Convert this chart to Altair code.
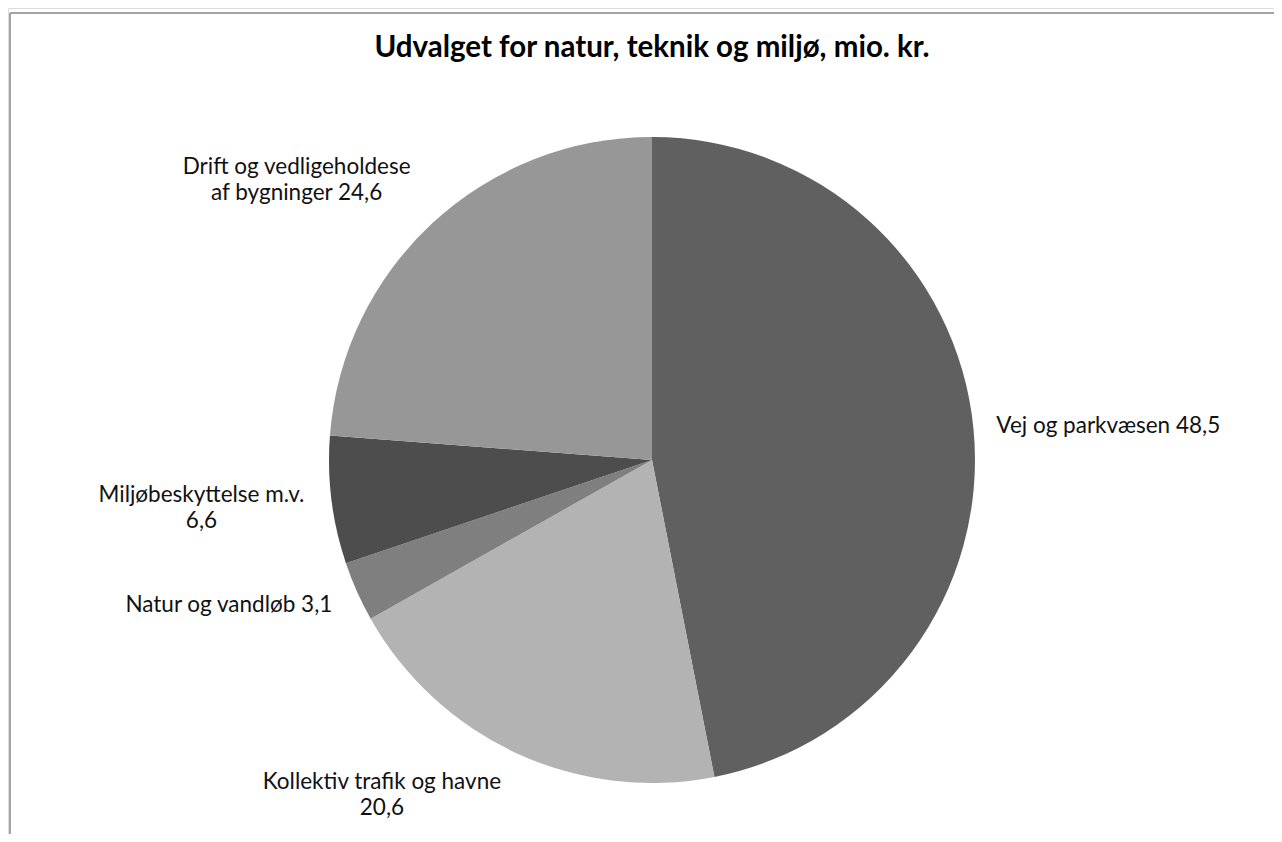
import math
import altair as alt
import pandas as pd

categories = ["Vej og parkvæsen", "Kollektiv trafik og havne", "Natur og vandløb",
              "Miljøbeskyttelse m.v.", "Drift og vedligeholdese af bygninger"]
values = [48.5, 20.6, 3.1, 6.6, 24.6]
label_texts = ["Vej og parkvæsen 48,5", "Kollektiv trafik og havne\n20,6",
               "Natur og vandløb 3,1", "Miljøbeskyttelse m.v.\n6,6",
               "Drift og vedligeholdese\naf bygninger 24,6"]
colors = ["#606060", "#b3b3b3", "#7f7f7f", "#4d4d4d", "#979797"]
title_text = "Udvalget for natur, teknik og miljø, mio. kr."

total = sum(values)
df = pd.DataFrame({"idx": list(range(len(categories))), "category": categories,
                   "value": values, "label": label_texts})

FONT = "Lato"
CX, CY = 644, 452
theta_scale = alt.Scale(domain=[0, total], range=[0, 2 * math.pi])

base = alt.Chart(df)

pie = base.mark_arc(outerRadius=323).encode(
    theta=alt.Theta("value:Q", stack=True, scale=theta_scale),
    order=alt.Order("idx:Q"),
    color=alt.Color("category:N", scale=alt.Scale(domain=categories, range=colors), legend=None),
    x=alt.value(CX), y=alt.value(CY),
)

label_base = base.transform_window(
    cum="sum(value)", sort=[alt.SortField("idx")], frame=[None, 0]
).transform_calculate(mid="datum.cum - datum.value / 2")

# per label: radius, align, dx, dy
label_style = [
    (346, "left", 0, 0),
    (366, "center", -117, -10),
    (350, "right", 0, 3),
    (448, "center", -6, -21),
    (383, "center", -95, -12),
]

layers = [pie]
for cat, (r, al, dx, dy) in zip(categories, label_style):
    layers.append(
        label_base.transform_filter(alt.datum.category == cat).mark_text(
            font=FONT, fontSize=22.5, align=al, baseline="middle", dx=dx, dy=dy,
            lineBreak="\n", lineHeight=26, color="#111111"
        ).encode(
            theta=alt.Theta("mid:Q", stack=None, scale=theta_scale),
            radius=alt.value(r),
            text="label:N",
            x=alt.value(CX), y=alt.value(CY),
        )
    )

title = alt.Chart(pd.DataFrame({"t": [title_text]})).mark_text(
    font=FONT, fontSize=29.5, fontWeight="bold", align="center", baseline="middle", color="#000000"
).encode(text="t:N", x=alt.value(CX), y=alt.value(40))

frame_top = alt.Chart(pd.DataFrame({"a": [0]})).mark_rule(color="#a3a3a3", strokeWidth=2).encode(
    x=alt.value(2), x2=alt.value(1266), y=alt.value(5))
frame_left = alt.Chart(pd.DataFrame({"a": [0]})).mark_rule(color="#a3a3a3", strokeWidth=2).encode(
    x=alt.value(2), y=alt.value(5), y2=alt.value(826))

chart = alt.layer(frame_top, frame_left, *layers, title).properties(
    width=1266, height=826, padding=0, autosize=alt.AutoSizeParams(type="none")
).configure_view(stroke=None).configure(background="white")

chart.save("out.html", embed_options={"renderer": "svg", "actions": False})
